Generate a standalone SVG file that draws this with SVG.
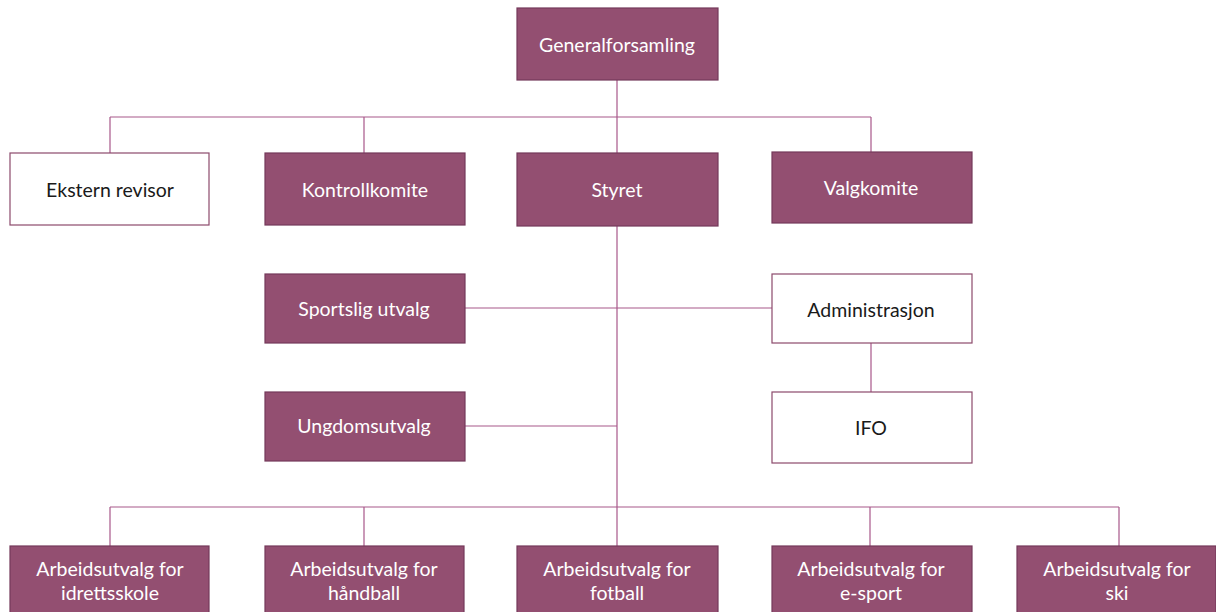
<svg xmlns="http://www.w3.org/2000/svg" width="1216" height="612" viewBox="0 0 1216 612">
<style>
.p{fill:#934f71;stroke:#74395a;stroke-width:1.2}
.w{fill:#ffffff;stroke:#8c4a6c;stroke-width:1.2}
.tp{font-family:Lato,"Liberation Sans",sans-serif;font-size:19.5px;fill:#ffffff;text-anchor:middle;dominant-baseline:central}
.tw{font-family:Lato,"Liberation Sans",sans-serif;font-size:19.5px;fill:#1a1a1a;text-anchor:middle;dominant-baseline:central}
.c{stroke:#a8588a;stroke-width:1.2;fill:none}
</style>
<rect width="1216" height="612" fill="#ffffff"/>
<g id="connectors">
<path class="c" d="M617 80V117M110 117H871M110 117V153M364 117V153M617 117V153M871 117V152"/>
<path class="c" d="M617 226V507M465 308H772M465 426H617M871 343V392"/>
<path class="c" d="M110 507H1119M110 507V546M364 507V546M617 507V546M870 507V546M1119 507V546"/>
</g>
<g id="generalforsamling"><rect class="p" x="517" y="8" width="201" height="72"/><text class="tp" x="617" y="44">Generalforsamling</text></g>
<g id="ekstern-revisor"><rect class="w" x="10" y="153" width="199" height="72"/><text class="tw" x="110" y="189">Ekstern revisor</text></g>
<g id="kontrollkomite"><rect class="p" x="265" y="153" width="200" height="72"/><text class="tp" x="365" y="189">Kontrollkomite</text></g>
<g id="styret"><rect class="p" x="517" y="153" width="201" height="73"/><text class="tp" x="617" y="189">Styret</text></g>
<g id="valgkomite"><rect class="p" x="772" y="152" width="200" height="71"/><text class="tp" x="871" y="187">Valgkomite</text></g>
<g id="sportslig-utvalg"><rect class="p" x="265" y="274" width="200" height="69"/><text class="tp" x="364" y="308">Sportslig utvalg</text></g>
<g id="administrasjon"><rect class="w" x="772" y="274" width="200" height="69"/><text class="tw" x="871" y="309">Administrasjon</text></g>
<g id="ungdomsutvalg"><rect class="p" x="265" y="392" width="200" height="69"/><text class="tp" x="364" y="425">Ungdomsutvalg</text></g>
<g id="ifo"><rect class="w" x="772" y="392" width="200" height="71"/><text class="tw" x="871" y="427">IFO</text></g>
<g id="au-idrettsskole"><rect class="p" x="10" y="546" width="199" height="72"/><text class="tp" x="110" y="568">Arbeidsutvalg for</text><text class="tp" x="110" y="592">idrettsskole</text></g>
<g id="au-handball"><rect class="p" x="265" y="546" width="199" height="72"/><text class="tp" x="364" y="568">Arbeidsutvalg for</text><text class="tp" x="364" y="592">håndball</text></g>
<g id="au-fotball"><rect class="p" x="517" y="546" width="201" height="72"/><text class="tp" x="617" y="568">Arbeidsutvalg for</text><text class="tp" x="617" y="592">fotball</text></g>
<g id="au-esport"><rect class="p" x="772" y="546" width="200" height="72"/><text class="tp" x="871" y="568">Arbeidsutvalg for</text><text class="tp" x="871" y="592">e-sport</text></g>
<g id="au-ski"><rect class="p" x="1017" y="546" width="199" height="72"/><text class="tp" x="1117" y="568">Arbeidsutvalg for</text><text class="tp" x="1117" y="592">ski</text></g>
</svg>
